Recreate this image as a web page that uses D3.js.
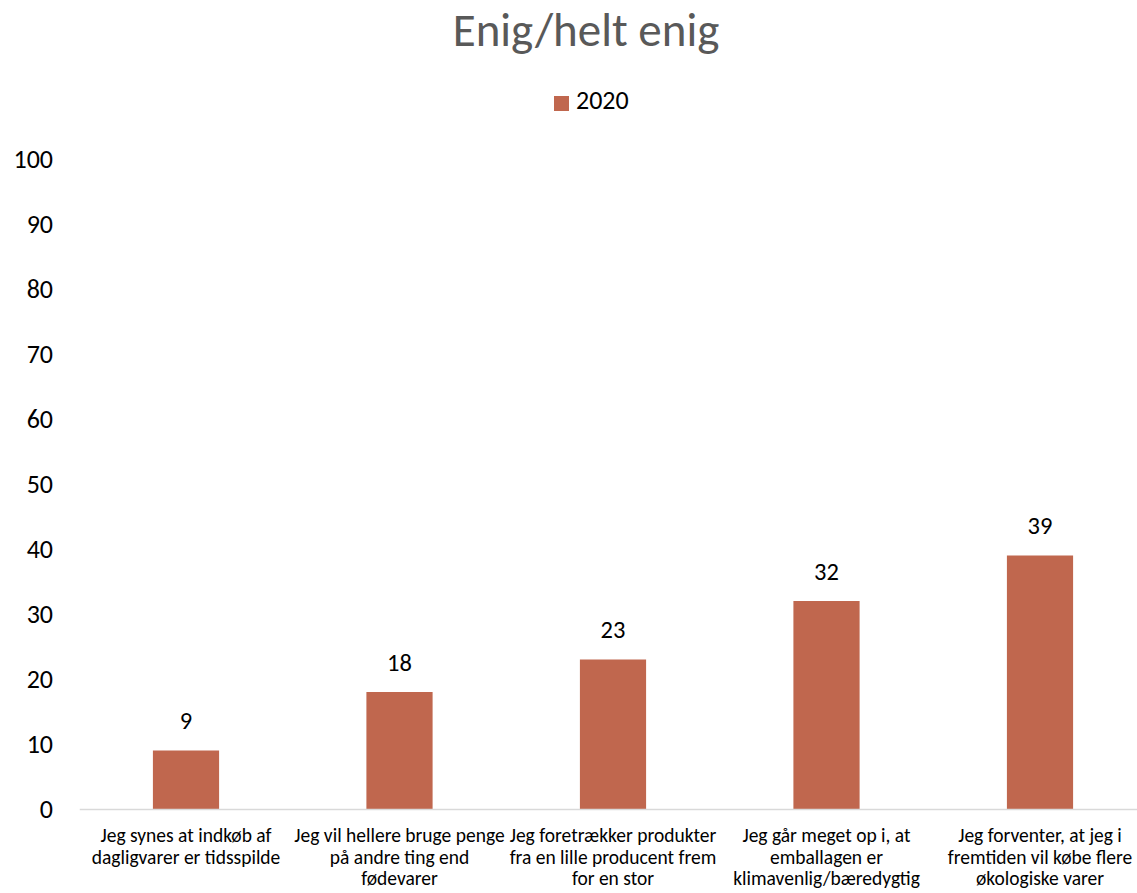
<!DOCTYPE html>
<html>
<head>
<meta charset="utf-8">
<script src="https://cdn.jsdelivr.net/npm/d3@7"></script>
<style>
  html, body { margin: 0; padding: 0; background: #fff; }
  svg { display: block; }
  text { font-family: Carlito, Calibri, Lato, "Noto Sans", sans-serif; }
</style>
</head>
<body>
<svg id="chart" width="1137" height="893"></svg>
<script>
const title = "Enig/helt enig";
const seriesName = "2020";
const categories = [
  ["Jeg synes at indkøb af", "dagligvarer er tidsspilde"],
  ["Jeg vil hellere bruge penge", "på andre ting end", "fødevarer"],
  ["Jeg foretrækker produkter", "fra en lille producent frem", "for en stor"],
  ["Jeg går meget op i, at", "emballagen er", "klimavenlig/bæredygtig"],
  ["Jeg forventer, at jeg i", "fremtiden vil købe flere", "økologiske varer"]
];
const values = [9, 18, 23, 32, 39];
const yTicks = [0, 10, 20, 30, 40, 50, 60, 70, 80, 90, 100];

const barColor = "#C0674E";
const svg = d3.select("#chart");

const x = d3.scaleBand()
  .domain(d3.range(categories.length))
  .range([79.25, 1146.75])
  .paddingInner(0.69)
  .paddingOuter(0.345);

const y = d3.scaleLinear().domain([0, 100]).range([809, 159]);

// title
svg.append("text")
  .attr("x", 586).attr("y", 46)
  .attr("text-anchor", "middle")
  .attr("fill", "#595959")
  .attr("font-size", 47)
  .text(title);

// legend
svg.append("rect")
  .attr("x", 554).attr("y", 96).attr("width", 15).attr("height", 15)
  .attr("fill", barColor);
svg.append("text")
  .attr("x", 576).attr("y", 103)
  .attr("dominant-baseline", "middle")
  .attr("font-size", 26)
  .attr("fill", "#000")
  .text(seriesName);

// y axis (labels only)
const yAxis = d3.axisLeft(y).tickValues(yTicks).tickSize(0).tickPadding(0);
const gy = svg.append("g").attr("transform", "translate(53,0)").call(yAxis);
gy.select(".domain").remove();
gy.selectAll("text")
  .attr("font-size", 26)
  .attr("fill", "#000")
  .style("font-family", "Carlito, Calibri, Lato, 'Noto Sans', sans-serif");

// bars
svg.selectAll("rect.bar")
  .data(values)
  .join("rect")
  .attr("class", "bar")
  .attr("x", (d, i) => x(i))
  .attr("width", x.bandwidth())
  .attr("y", d => y(d))
  .attr("height", d => y(0) - y(d))
  .attr("fill", barColor);

// x axis line
const xAxis = d3.axisBottom(x).tickSize(0).tickFormat("");
const gx = svg.append("g").attr("transform", `translate(0,${y(0)})`).call(xAxis);
gx.select(".domain").attr("stroke", "#D9D9D9").attr("stroke-width", 1.5);

// data labels
svg.selectAll("text.val")
  .data(values)
  .join("text")
  .attr("class", "val")
  .attr("x", (d, i) => x(i) + x.bandwidth() / 2)
  .attr("y", d => y(d) - 27)
  .attr("text-anchor", "middle")
  .attr("dominant-baseline", "middle")
  .attr("font-size", 24.5)
  .attr("fill", "#000")
  .text(d => d);

// category labels
categories.forEach((lines, i) => {
  const t = svg.append("text")
    .attr("x", x(i) + x.bandwidth() / 2)
    .attr("y", 842)
    .attr("text-anchor", "middle")
    .attr("font-size", 19.5)
    .attr("fill", "#000");
  lines.forEach((ln, j) => {
    t.append("tspan")
      .attr("x", x(i) + x.bandwidth() / 2)
      .attr("y", 842 + j * 21.7)
      .text(ln);
  });
});
</script>
</body>
</html>
